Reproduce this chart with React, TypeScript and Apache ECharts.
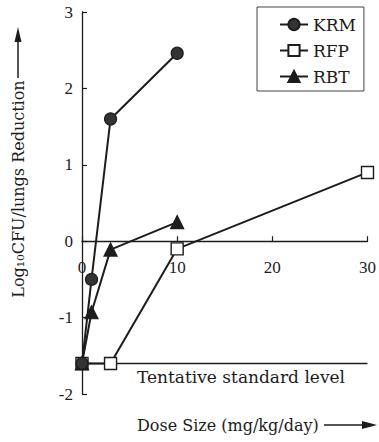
import { useEffect, useRef } from 'react';
import * as echarts from 'echarts';

const seriesNames = ['KRM', 'RFP', 'RBT'];
const krmDose = [0, 1, 3, 10];
const krmReduction = [-1.6, -0.5, 1.6, 2.46];
const rfpDose = [0, 3, 10, 30];
const rfpReduction = [-1.6, -1.6, -0.1, 0.9];
const rbtDose = [0, 1, 3, 10];
const rbtReduction = [-1.6, -0.93, -0.11, 0.25];
const standardLevel = -1.6;
const standardLabel = 'Tentative standard level';
const xAxisTitle = 'Dose Size (mg/kg/day)';
const yAxisTitle = 'Log\u2081\u2080CFU/lungs Reduction';
const xRange = [0, 30];
const yRange = [-2, 3];

const ink = '#1c1c1c';
const serif = 'DejaVu Serif';
const numFont = 'Liberation Serif';

const gridTop = 12;
const gridBottom = 48;
const chartH = 442;

const pairs = (xs: number[], ys: number[]) => xs.map((x, i) => [x, ys[i]]);

export default function App() {
  const ref = useRef<HTMLDivElement>(null);
  useEffect(() => {
    if (!ref.current) return;
    document.body.style.margin = '0';
    document.body.style.overflow = 'hidden';
    const chart = echarts.init(ref.current, null, { renderer: 'svg' });
    const plotH = chartH - gridTop - gridBottom;
    // distance from grid bottom to the zero line, so the x axis sits on y = 0
    const zeroOffset = (plotH * (0 - yRange[0])) / (yRange[1] - yRange[0]);
    const lineBase = {
      type: 'line' as const,
      lineStyle: { color: ink, width: 2 },
      itemStyle: { color: ink, borderColor: ink, borderWidth: 1.2 },
      symbolSize: 12,
      z: 3,
    };
    chart.setOption({
      animation: false,
      backgroundColor: '#fff',
      grid: { left: 82, right: 11, top: gridTop, bottom: gridBottom, containLabel: false },
      xAxis: {
        type: 'value',
        min: xRange[0],
        max: xRange[1],
        interval: 10,
        offset: -zeroOffset,
        axisLine: { onZero: false, lineStyle: { color: ink, width: 1.3 } },
        axisTick: { inside: true, length: 5, lineStyle: { color: ink, width: 1.2 } },
        axisLabel: {
          margin: 18,
          color: ink,
          fontFamily: numFont,
          fontSize: 17,
          showMaxLabel: true,
          showMinLabel: true,
          overflow: 'none',
        },
        splitLine: { show: false },
      },
      yAxis: {
        type: 'value',
        min: yRange[0],
        max: yRange[1],
        interval: 1,
        axisLine: { show: true, onZero: false, lineStyle: { color: ink, width: 1.3 } },
        axisTick: { show: true, inside: true, length: 5, lineStyle: { color: ink, width: 1.2 } },
        axisLabel: { margin: 9, color: ink, fontFamily: numFont, fontSize: 17 },
        splitLine: { show: false },
      },
      legend: {
        data: seriesNames,
        orient: 'vertical',
        left: 257,
        top: 7,
        padding: [8, 8, 5, 22],
        itemGap: 7,
        itemWidth: 28,
        itemHeight: 14,
        borderColor: '#444',
        borderWidth: 1,
        textStyle: { fontFamily: serif, fontSize: 17, color: ink, lineHeight: 19 },
      },
      series: [
        {
          name: 'standard',
          type: 'line',
          data: pairs([xRange[0], xRange[1]], [standardLevel, standardLevel]),
          symbol: 'none',
          lineStyle: { color: ink, width: 1.5 },
          z: 1,
          silent: true,
        },
        {
          ...lineBase,
          name: seriesNames[1],
          data: pairs(rfpDose, rfpReduction),
          symbol: 'rect',
          itemStyle: { color: '#fff', borderColor: ink, borderWidth: 1.4 },
        },
        {
          ...lineBase,
          name: seriesNames[2],
          data: pairs(rbtDose, rbtReduction),
          symbol: 'triangle',
          symbolSize: 13,
        },
        {
          ...lineBase,
          name: seriesNames[0],
          data: pairs(krmDose, krmReduction),
          symbol: 'circle',
          itemStyle: { color: '#333', borderColor: ink, borderWidth: 1.2 },
        },
      ],
      graphic: [
        {
          type: 'text',
          x: 137,
          y: 377,
          style: {
            text: standardLabel,
            fontFamily: serif,
            fontSize: 17,
            fill: ink,
            textAlign: 'left',
            textVerticalAlign: 'middle',
          },
        },
        {
          type: 'text',
          x: 137,
          y: 425,
          style: {
            text: xAxisTitle,
            fontFamily: serif,
            fontSize: 16,
            fill: ink,
            textAlign: 'left',
            textVerticalAlign: 'middle',
          },
        },
        {
          type: 'line',
          shape: { x1: 324, y1: 425, x2: 364, y2: 425 },
          style: { stroke: ink, lineWidth: 1.5 },
        },
        {
          type: 'polygon',
          shape: { points: [[377, 425], [362, 421], [362, 429]] },
          style: { fill: ink },
        },
        {
          type: 'text',
          x: 18,
          y: 189,
          rotation: Math.PI / 2,
          style: {
            text: yAxisTitle,
            fontFamily: serif,
            fontSize: 16,
            fill: ink,
            textAlign: 'center',
            textVerticalAlign: 'middle',
          },
        },
        {
          type: 'line',
          shape: { x1: 18, y1: 78, x2: 18, y2: 40 },
          style: { stroke: ink, lineWidth: 1.5 },
        },
        {
          type: 'polygon',
          shape: { points: [[18, 27], [14.5, 42], [21.5, 42]] },
          style: { fill: ink },
        },
      ],
    });
    return () => chart.dispose();
  }, []);
  return <div ref={ref} style={{ width: 379, height: 442 }} />;
}
